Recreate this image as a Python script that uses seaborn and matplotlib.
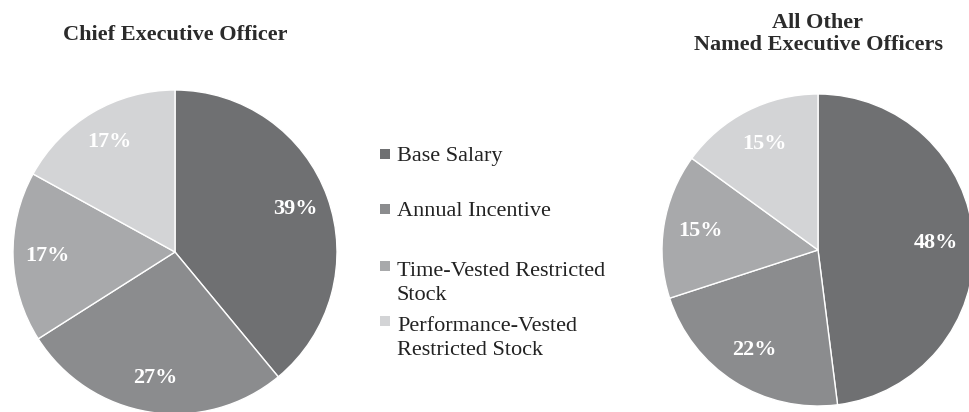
import matplotlib
matplotlib.use("Agg")
import matplotlib.pyplot as plt
from matplotlib.patches import Rectangle
import seaborn as sns

# ---- data ----
categories = ["Base Salary", "Annual Incentive", "Time-Vested Restricted\nStock",
              "Performance-Vested\nRestricted Stock"]
ceo_values = [39, 27, 17, 17]
neo_values = [48, 22, 15, 15]
titles = ["Chief Executive Officer", "All Other\nNamed Executive Officers"]
colors = ["#6f7072", "#8b8c8e", "#a8a9ab", "#d3d4d6"]

sns.set_theme(style="white")
plt.rcParams["font.family"] = ["Liberation Serif", "DejaVu Serif"]

W, H = 969, 412
fig = plt.figure(figsize=(W / 100, H / 100), dpi=100)
fig.patch.set_facecolor("white")


def px_axes(cx, cy, r):
    # cx, cy in pixels from top-left
    return fig.add_axes([(cx - r) / W, (H - (cy + r)) / H, 2 * r / W, 2 * r / H])


def draw_pie(ax, vals, pctd):
    wedges, texts, autotexts = ax.pie(
        vals, colors=colors, startangle=90, counterclock=False,
        autopct="%d%%", pctdistance=pctd, radius=1,
        wedgeprops=dict(edgecolor="white", linewidth=1.0),
        textprops=dict(color="white", fontsize=16, fontweight="bold"))
    ax.set_xlim(-1, 1)
    ax.set_ylim(-1, 1)
    ax.set_aspect("equal")
    ax.axis("off")
    return autotexts


ax1 = px_axes(175, 252, 162)
at1 = draw_pie(ax1, ceo_values, 0.79)
ax2 = px_axes(818, 250, 156)
at2 = draw_pie(ax2, neo_values, 0.76)

# titles (va='baseline' aligns the last line)
fig.text(175 / W, 1 - 40.5 / H, titles[0], ha="center", va="baseline",
         fontsize=16, fontweight="bold", color="#2b2b2b")
fig.text(818 / W, 1 - 50 / H, titles[1], ha="center", va="baseline",
         fontsize=16, fontweight="bold", color="#2b2b2b", linespacing=1.15)

# legend
first_baselines = [160.5, 216, 273, 328]
last_baselines = [160.5, 216, 300, 355]
for lab, col, b0, b1 in zip(categories, colors, first_baselines, last_baselines):
    fig.add_artist(Rectangle((380 / W, 1 - (b0 - 2) / H), 10 / W, 10 / H,
                             transform=fig.transFigure, facecolor=col,
                             edgecolor="none"))
    fig.text(397 / W, 1 - b1 / H, lab, ha="left", va="baseline",
             fontsize=16, color="#222222", linespacing=1.38)

fig.savefig("out.png", dpi=100, facecolor="white")
